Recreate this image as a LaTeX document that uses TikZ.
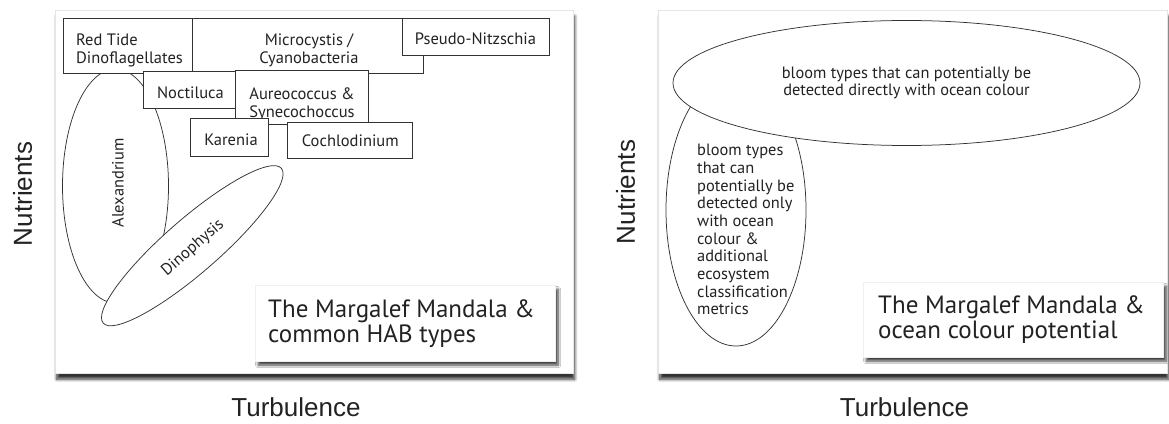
\documentclass[tikz,border=0pt]{standalone}
\usepackage{fontspec}
\setmainfont{PT Sans}
\newfontfamily\axisfont{Liberation Sans}
\usetikzlibrary{shapes.geometric,shadows.blur}
\definecolor{ink}{HTML}{222222}
\definecolor{edge}{HTML}{333333}
\begin{document}
\begin{tikzpicture}[x=1pt,y=-1pt,
  panel/.style={fill=white, draw=black!10, line width=0.4pt, anchor=north west,
    blur shadow={shadow xshift=1.5pt, shadow yshift=-6pt, shadow opacity=80, shadow blur radius=3pt, shadow blur steps=8}},
  hbox/.style={draw=edge, fill=white, line width=1pt, inner sep=0pt, anchor=north west},
  htext/.style={font=\fontsize{16.5}{18}\selectfont, align=center, inner sep=0pt, text=ink},
  oval/.style={ellipse, draw=edge, fill=white, line width=0.75pt, inner sep=0pt},
  otext/.style={font=\fontsize{16.4}{17.7}\selectfont, inner sep=0pt, text=ink},
  titlebox/.style={fill=white, draw=black!6, line width=0.3pt, inner sep=0pt, anchor=north west,
    blur shadow={shadow xshift=3pt, shadow yshift=-4pt, shadow opacity=75, shadow blur radius=2.5pt, shadow blur steps=8}},
  titletext/.style={font=\fontsize{25}{25}\selectfont, align=left, inner sep=0pt, anchor=west, text=ink},
  axislabel/.style={font=\axisfont\fontsize{26}{28}\selectfont, inner sep=0pt, text=ink}]
\useasboundingbox (0,0) rectangle (1169,423);

% ---------- left panel ----------
\node[panel, minimum width=518, minimum height=363] (lpanel) at (55,10) {};

\node[oval, minimum width=106, minimum height=234] (alex) at (115.5,186) {};
\node[otext, rotate=90] (alext) at (118,183) {Alexandrium};
\node[oval, minimum width=236, minimum height=54, rotate=41] (dino) at (192.3,245.7) {};
\node[otext, rotate=41] (dinot) at (193,248) {Dinophysis};

\node[hbox, minimum width=128.5, minimum height=55] (redtide) at (63,18) {};
\node[htext, align=left, anchor=west] (redtidet) at (76,50) {Red Tide\\Dinoflagellates};
\node[hbox, minimum width=231.5, minimum height=55] (micro) at (191.5,18) {};
\node[htext] (microt) at (309,50) {Microcystis /\\Cyanobacteria};
\node[hbox, minimum width=147.5, minimum height=37] (pseudo) at (401.5,18) {};
\node[htext] (pseudot) at (475.5,39) {Pseudo-Nitzschia};
\node[hbox, minimum width=93, minimum height=37] (noct) at (143,71) {};
\node[htext] (noctt) at (190.5,92.5) {Noctiluca};
\node[hbox, minimum width=133.5, minimum height=54] (aureo) at (234.5,70) {};
\node[htext, align=left] (aureot) at (302,104.5) {Aureococcus \&\\Synecochoccus};
\node[hbox, minimum width=78, minimum height=38] (karenia) at (190,118) {};
\node[htext] (kareniat) at (231,140) {Karenia};
\node[hbox, minimum width=125, minimum height=36] (cochl) at (287,122) {};
\node[htext] (cochlt) at (350.3,141) {Cochlodinium};

\node[titlebox, minimum width=300, minimum height=76] (ltitle) at (255,285) {};
\node[titletext] (ltitlet) at (268,324) {The Margalef Mandala \&\\common HAB types};

\node[axislabel, rotate=90] (lnut) at (22.6,194) {Nutrients};
\node[axislabel] (lturb) at (296,407) {Turbulence};

% ---------- right panel ----------
\node[panel, minimum width=509, minimum height=363] (rpanel) at (658,10) {};

\node[oval, minimum width=140, minimum height=272] (only) at (736,210) {};
\node[otext, align=left, anchor=north west] (onlyt) at (697,144)
  {bloom types\\that can\\potentially be\\detected only\\with ocean\\colour \&\\additional\\ecosystem\\classification\\metrics};
\node[oval, minimum width=467, minimum height=125, otext, align=center] (direct) at (906.5,83)
  {bloom types that can potentially be\\detected directly with ocean colour};

\node[titlebox, minimum width=300, minimum height=75] (rtitle) at (863,282) {};
\node[titletext] (rtitlet) at (878,320) {The Margalef Mandala \&\\ocean colour potential};

\node[axislabel, rotate=90] (rnut) at (625.5,192) {Nutrients};
\node[axislabel] (rturb) at (904.5,407) {Turbulence};
\end{tikzpicture}
\end{document}
